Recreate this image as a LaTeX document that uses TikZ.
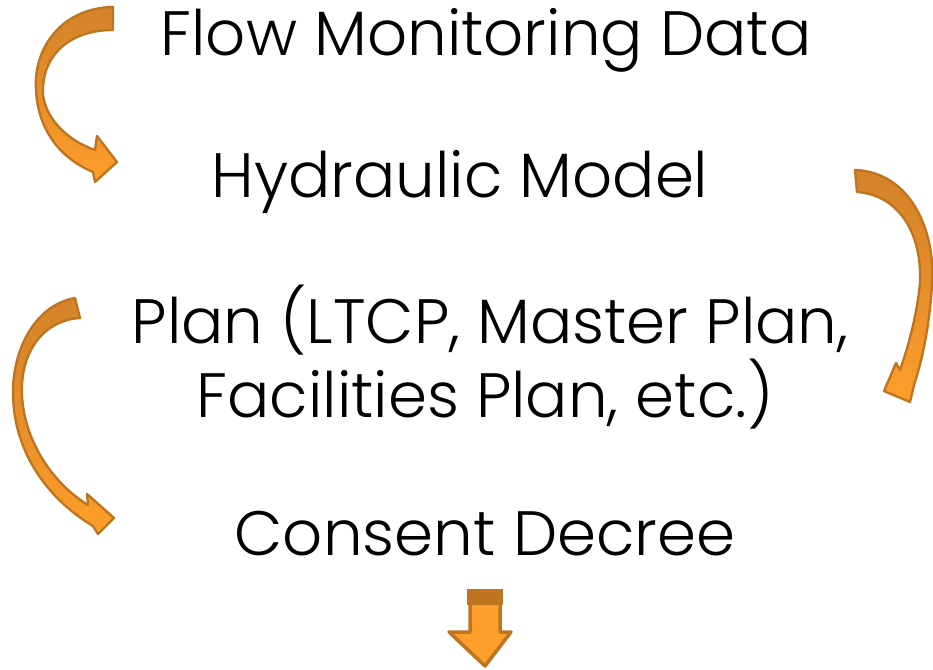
\documentclass[tikz,border=0pt]{standalone}
\usepackage{fontspec}
\setmainfont{Poppins}[UprightFont=* Light]
\definecolor{arrowdark}{HTML}{D4832A}
\definecolor{arrowlight}{HTML}{FF9F2B}
\definecolor{arrowline}{HTML}{BF7420}
\tikzset{
	steptext/.style={anchor=base, inner sep=0pt, font=\fontsize{53.5}{64}\selectfont},
	bentarrow/.style={draw=arrowline, line width=2pt, line join=round, top color=arrowdark, bottom color=arrowlight, middle color=arrowdark!60!arrowlight}
}
\begin{document}
\begin{tikzpicture}[x=0.03cm, y=-0.03cm]
		\useasboundingbox (0,0) rectangle (933,669);
		\node [steptext] (flow)  at (486,55)  {Flow Monitoring Data};
		\node [steptext] (model) at (460,197) {Hydraulic Model};
		\node [steptext] (plan)  at (490,343) {Plan (LTCP, Master Plan,};
		\node [steptext] (facil) at (485,417) {Facilities Plan, etc.)};
		\node [steptext] (decree) at (485,555) {Consent Decree};
		% curved arrows between the steps
		\path [bentarrow] (113,7) .. controls (60,8) and (33,50) .. (36,90)
			.. controls (38,130) and (60,158) .. (93,172) -- (95,182) -- (117,162) -- (97,136) -- (95,150)
			.. controls (66,140) and (46,118) .. (43,95) .. controls (41,55) and (70,30) .. (113,30) -- cycle;
		\path [bentarrow] (855,170) .. controls (910,172) and (936,230) .. (932,285)
			.. controls (929,330) and (922,360) .. (914,385) -- (910,402) -- (884,391) -- (896,363) -- (900,370)
			.. controls (910,342) and (918,308) .. (920,282) .. controls (922,232) and (898,195) .. (857,192) -- cycle;
		\path [bentarrow] (75,298) .. controls (35,305) and (12,350) .. (13,395)
			.. controls (14,450) and (45,497) .. (93,526) -- (98,534) -- (114,518) -- (87,494) -- (88,505)
			.. controls (52,483) and (24,440) .. (22,395) .. controls (20,350) and (45,320) .. (80,318) -- cycle;
		% straight arrow below the last step
		\fill [arrowline] (467,589) rectangle (503,605);
		\path [draw=arrowline, fill=arrowlight, line width=3pt, line join=round]
			(470,603) -- (500,603) -- (500,632) -- (511,632) -- (485,666) -- (449,632) -- (470,632) -- cycle;
\end{tikzpicture}
\end{document}
